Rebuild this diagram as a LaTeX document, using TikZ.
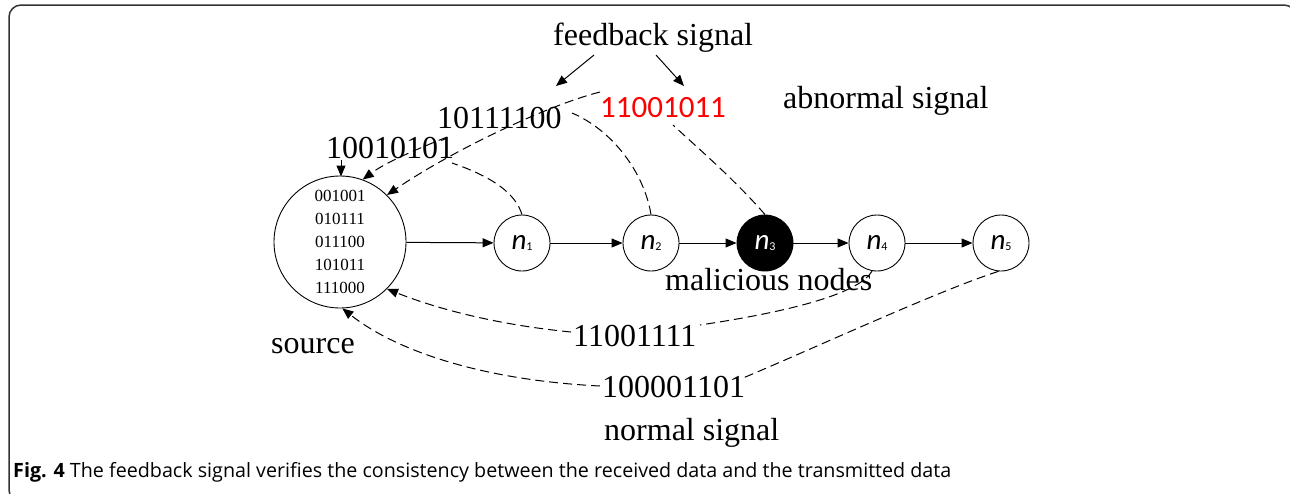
\documentclass[tikz,border=0pt]{standalone}
\usepackage{fontspec}
\setmainfont{Liberation Serif}
\newfontfamily\calfont{Carlito}
\newfontfamily\capfont{Open Sans}
\usetikzlibrary{arrows.meta}
\newcommand\nlab[1]{{\calfont\fontsize{29}{29}\selectfont\itshape n}\raisebox{-1pt}{\calfont\fontsize{12}{12}\selectfont #1}}
\begin{document}
\begin{tikzpicture}[x=1pt,y=-1pt,
  nd/.style={circle,draw,line width=0.9pt,minimum size=56pt,inner sep=0pt},
  lab/.style={font=\fontsize{32}{32}\selectfont, inner sep=0pt, anchor=base west},
  fb/.style={dash pattern=on 9pt off 5pt, line width=1pt},
  fba/.style={fb, -{Triangle[length=11pt,width=9pt]}},
  main/.style={line width=1pt, -{Triangle[length=11pt,width=9pt]}}]
\useasboundingbox (0,0) rectangle (1290,493);
\begin{scope}
\clip (0,0) rectangle (1290,493);
\draw[line width=1.5pt, rounded corners=12pt, draw=black!80] (9,5) rectangle (1296,502);
\end{scope}

% nodes
\node[nd, minimum size=132pt, align=center, font=\fontsize{17}{23}\selectfont] (src) at (340,242) {001001\\010111\\011100\\101011\\111000};
\node[nd] (n1) at (522,243) {\nlab{1}};
\node[nd] (n2) at (651,243) {\nlab{2}};
\node[nd, fill=black, text=white] (n3) at (765,243) {\nlab{3}};
\node[nd] (n4) at (877,243) {\nlab{4}};
\node[nd] (n5) at (1001,243) {\nlab{5}};

\draw[main] (src) -- (n1);
\draw[main] (n1) -- (n2);
\draw[main] (n2) -- (n3);
\draw[main] (n3) -- (n4);
\draw[main] (n4) -- (n5);

% labels
\node[lab] (fbs) at (553,45) {feedback signal};
\node[lab] (L1) at (326,158) {10010101};
\node[lab] (L2) at (437,128) {10111100};
\node[lab, text=red, font=\calfont\fontsize{31}{31}\selectfont] (L3) at (600,117) {11001011};
\node[lab] (abn) at (783,108) {abnormal signal};
\node[lab] (mal) at (665,290) {malicious nodes};
\node[lab] (L4) at (573,346) {11001111};
\node[lab] (L5) at (602,397) {100001101};
\node[lab] (srcl) at (271,353) {source};
\node[lab] (nrm) at (604,440) {normal signal};
\node[inner sep=0pt, anchor=base west, font=\capfont\fontsize{19.7}{19.7}\selectfont] (cap) at (13,477) {\textbf{Fig. 4} The feedback signal verifies the consistency between the received data and the transmitted data};

% feedback signal arrows
\coordinate (fa1) at (594,55);
\coordinate (fa2) at (656,55);
\coordinate (fe1) at (556,86);
\coordinate (fe2) at (684,86);
\draw[main] (fa1) -- (fe1);
\draw[main] (fa2) -- (fe2);

% upper feedback curves
\coordinate (c1) at (452,163);
\coordinate (c2) at (572,113);
\coordinate (c3) at (673,125);
\draw[fb] (n1.north) .. controls (515,192) and (490,176) .. (c1);
\draw[fb] (n2.north) .. controls (644,172) and (612,130) .. (c2);
\draw[fb] (n3.north) .. controls (735,180) and (700,150) .. (c3);

\coordinate (s1) at (341,160);
\coordinate (s2) at (447,137);
\coordinate (s3) at (600,92);
\draw[fba] (s1) -- (341,176.5);
\draw[fba] (s2) .. controls (410,152) and (385,163) .. (src.70);
\draw[fba] (s3) .. controls (545,106) and (450,152) .. (src.45);

% lower feedback curves
\coordinate (c4) at (700,325);
\coordinate (c5) at (743,378);
\draw[fb] (n4.260) .. controls (860,292) and (800,310) .. (c4);
\draw[fb] (n5.265) .. controls (940,290) and (810,350) .. (c5);
\coordinate (s4) at (571,332);
\coordinate (s5) at (600,386);
\draw[fba] (s4) .. controls (500,325) and (440,310) .. (src.-45);
\draw[fba] (s5) .. controls (480,380) and (395,350) .. (src.-88);
\end{tikzpicture}
\end{document}
